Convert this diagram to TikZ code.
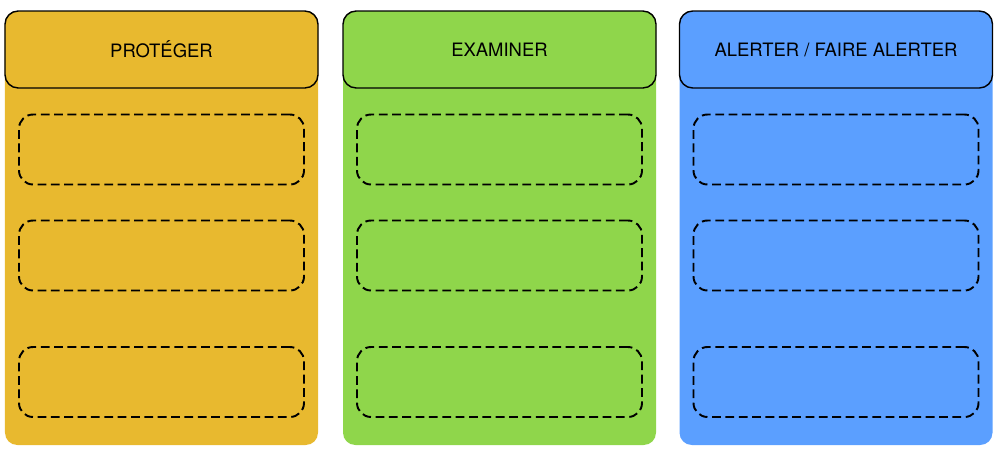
\documentclass[tikz,border=0pt]{standalone}
\usepackage{fontspec}
\setmainfont{TeX Gyre Heros}

\definecolor{protcol}{HTML}{E8B92F}
\definecolor{examcol}{HTML}{8FD64B}
\definecolor{alertcol}{HTML}{5B9FFF}

\newcommand*{\colwidth}{6.26cm}
\newcommand*{\slotwidth}{5.7cm}

\begin{document}
\begin{tikzpicture}
[
	column/.style={rectangle,rounded corners=7pt,minimum width=\colwidth,minimum height=8.68cm,inner sep=0pt},
	header/.style={rectangle,draw,line width=0.8pt,rounded corners=7.5pt,minimum width=\colwidth,minimum height=1.54cm,inner sep=0pt,font=\fontsize{10.5}{12}\selectfont},
	slot/.style={rectangle,draw,line width=1.1pt,dash pattern=on 5pt off 2.6pt,rounded corners=8pt,minimum width=\slotwidth,minimum height=1.4cm,inner sep=0pt}
]

	\useasboundingbox (0,0) rectangle (20,-9.12);

	% three columns
	\foreach \name/\x/\col/\title in {prot/3.23/protcol/{PROTÉGER}, exam/9.99/examcol/{EXAMINER}, alert/16.72/alertcol/{ALERTER / FAIRE ALERTER}}
	{
		\node[column,fill=\col] (col-\name) at (\x,-4.56) {};
		\node[header,fill=\col] (head-\name) at (\x,-0.99) {\title};

		% empty slots
		\foreach \y [count=\i] in {-2.99,-5.11,-7.64}
			\node[slot] (slot-\name-\i) at (\x,\y) {};
	}

\end{tikzpicture}
\end{document}
